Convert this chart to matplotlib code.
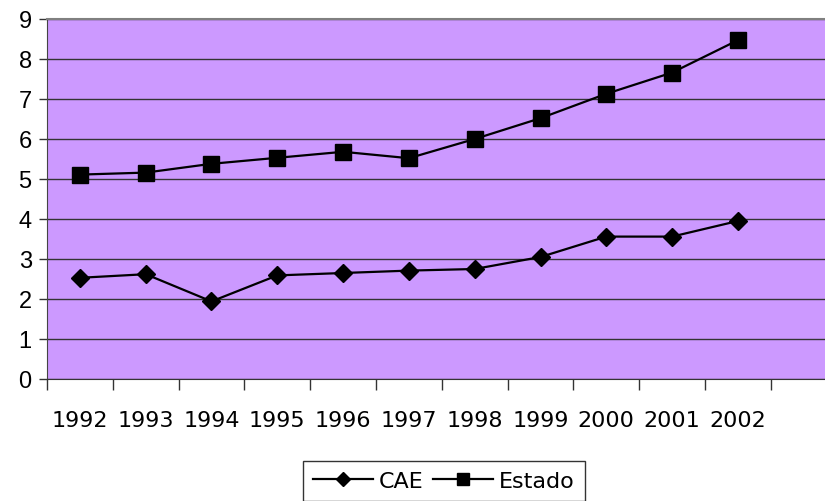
import matplotlib.pyplot as plt
import numpy as np

years = ['1992', '1993', '1994', '1995', '1996', '1997', '1998', '1999', '2000', '2001', '2002']
cae = [2.53, 2.62, 1.94, 2.59, 2.65, 2.71, 2.75, 3.05, 3.56, 3.56, 3.95]
estado = [5.11, 5.16, 5.38, 5.53, 5.68, 5.52, 6.00, 6.52, 7.13, 7.66, 8.47]

W, H = 825, 502
fig = plt.figure(figsize=(W / 100, H / 100), dpi=100)
ax = fig.add_axes([47 / W, (H - 380) / H, 1 - 47 / W, 360 / H])
ax.set_facecolor('#CC99FF')

x = np.arange(1, len(years) + 1)
ax.plot(x, cae, color='black', lw=1.6, marker='D', ms=9.5, label='CAE')
ax.plot(x, estado, color='black', lw=1.6, marker='s', ms=11.5, label='Estado')

ax.set_ylim(0, 9)
ax.set_yticks(range(0, 10))
ax.set_yticklabels([str(v) for v in range(0, 10)], fontsize=17, family='Liberation Sans')
ax.set_xlim(0.5, 0.5 + (W - 47) / 65.8)
ax.set_xticks(np.arange(0.5, len(years) + 1, 1))
ax.set_xticklabels([])
ax.set_xticks(x, minor=True)
ax.set_xticklabels(years, minor=True, fontsize=16, family='DejaVu Sans')
ax.tick_params(axis='x', which='minor', length=0, pad=22)
ax.tick_params(axis='x', which='major', length=8, width=1, color='#333333')
ax.tick_params(axis='y', length=6, width=1, color='#333333', pad=5)

ax.yaxis.grid(True, color='#333333', lw=1)
ax.set_axisbelow(True)
ax.spines['right'].set_visible(False)
ax.spines['top'].set_color('#808080')
ax.spines['top'].set_linewidth(1.5)
ax.spines['left'].set_color('#444444')
ax.spines['bottom'].set_color('#333333')

leg = fig.legend(loc='upper left', bbox_to_anchor=(303 / W, 1 - 462 / H),
                 ncol=2, frameon=True, fancybox=False,
                 prop={'family': 'DejaVu Sans', 'size': 16},
                 handlelength=2.7, handletextpad=0.25, columnspacing=0.45,
                 borderpad=0.45, borderaxespad=0, markerscale=0.8)
leg.get_frame().set_edgecolor('black')
leg.get_frame().set_linewidth(1)

fig.savefig('out.png', dpi=100)
